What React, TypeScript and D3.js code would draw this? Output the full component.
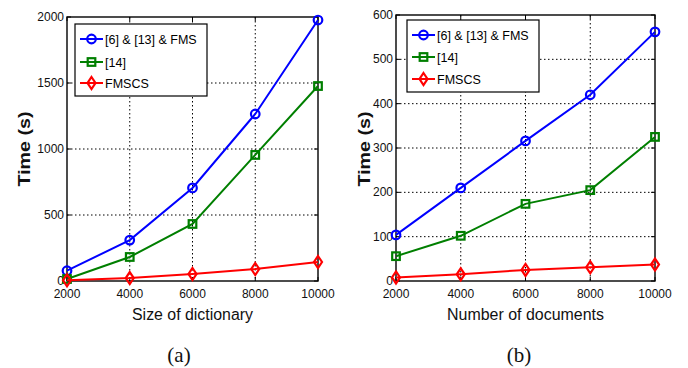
import React from "react";
import * as d3 from "d3";

const xValues = [2000, 4000, 6000, 8000, 10000];
const xTickLabels = ["2000", "4000", "6000", "8000", "10000"];
const seriesNames = ["[6] & [13] & FMS", "[14]", "FMSCS"];
const seriesColors = ["#0000ff", "#007f00", "#ff0000"];
const seriesMarkers = ["circle", "square", "diamond"];

const leftBlue = [78, 310, 705, 1265, 1977];
const leftGreen = [15, 182, 432, 955, 1477];
const leftRed = [5, 22, 53, 91, 144];
const leftYTicks = [0, 500, 1000, 1500, 2000];

const rightBlue = [104, 210, 316, 420, 562];
const rightGreen = [56, 102, 174, 205, 325];
const rightRed = [8, 15, 25, 31, 37];
const rightYTicks = [0, 100, 200, 300, 400, 500, 600];

type PanelProps = {
  x0: number; x1: number; y0: number; y1: number; ymax: number;
  yTicks: number[]; series: number[][]; xLabel: string; xLabelLen: number;
  caption: string; captionX: number; timeX: number;
  legend: { x: number; y: number; w: number; h: number; rows: number[] };
};

function Marker({ kind, x, y, color }: { kind: string; x: number; y: number; color: string }) {
  if (kind === "circle") return <circle cx={x} cy={y} r={4.3} fill="none" stroke={color} strokeWidth={2.2} />;
  if (kind === "square") return <rect x={x - 3.8} y={y - 3.8} width={7.6} height={7.6} fill="none" stroke={color} strokeWidth={2.2} />;
  return <path d={`M${x},${y - 6}L${x + 4},${y}L${x},${y + 6}L${x - 4},${y}Z`} fill="none" stroke={color} strokeWidth={2.2} />;
}

function Panel(p: PanelProps) {
  const xs = d3.scaleLinear().domain([2000, 10000]).range([p.x0, p.x1]);
  const ys = d3.scaleLinear().domain([0, p.ymax]).range([p.y1, p.y0]);
  const line = d3.line<number>().x((_, i) => xs(xValues[i])).y((d) => ys(d));
  const font = "Arial, 'Liberation Sans', sans-serif";
  return (
    <g>
      {xValues.slice(1, -1).map((v) => (
        <line key={"gx" + v} x1={xs(v)} x2={xs(v)} y1={p.y0} y2={p.y1} stroke="#000" strokeWidth={1} strokeDasharray="1.5,2.5" />
      ))}
      {p.yTicks.slice(1, -1).map((v) => (
        <line key={"gy" + v} x1={p.x0} x2={p.x1} y1={ys(v)} y2={ys(v)} stroke="#000" strokeWidth={1} strokeDasharray="1.5,2.5" />
      ))}
      {xValues.map((v) => (
        <g key={"tx" + v}>
          <line x1={xs(v)} x2={xs(v)} y1={p.y1} y2={p.y1 - 4} stroke="#000" />
          <line x1={xs(v)} x2={xs(v)} y1={p.y0} y2={p.y0 + 4} stroke="#000" />
        </g>
      ))}
      {p.yTicks.map((v) => (
        <g key={"ty" + v}>
          <line x1={p.x0} x2={p.x0 + 4} y1={ys(v)} y2={ys(v)} stroke="#000" />
          <line x1={p.x1} x2={p.x1 - 4} y1={ys(v)} y2={ys(v)} stroke="#000" />
        </g>
      ))}
      <rect x={p.x0} y={p.y0} width={p.x1 - p.x0} height={p.y1 - p.y0} fill="none" stroke="#000" strokeWidth={1.4} />
      {p.yTicks.map((v) => (
        <text key={"ly" + v} x={p.x0 - 3} y={ys(v) + 4} textAnchor="end" fontFamily={font} fontSize={12} fill="#111">{v}</text>
      ))}
      {xValues.map((v, i) => (
        <text key={"lx" + v} x={xs(v)} y={p.y1 + 17} textAnchor="middle" fontFamily={font} fontSize={12} fill="#111">{xTickLabels[i]}</text>
      ))}
      {p.series.map((s, si) => (
        <g key={"s" + si}>
          <path d={line(s) || ""} fill="none" stroke={seriesColors[si]} strokeWidth={2} />
          {s.map((d, i) => (
            <Marker key={i} kind={seriesMarkers[si]} x={xs(xValues[i])} y={ys(d)} color={seriesColors[si]} />
          ))}
        </g>
      ))}
      <rect x={p.legend.x} y={p.legend.y} width={p.legend.w} height={p.legend.h} fill="#fff" stroke="#000" strokeWidth={1.2} />
      {seriesNames.map((n, i) => {
        const ry = p.legend.rows[i];
        const lx = p.legend.x;
        return (
          <g key={"lg" + i}>
            <line x1={lx + 5} x2={lx + 28} y1={ry} y2={ry} stroke={seriesColors[i]} strokeWidth={2} />
            <Marker kind={seriesMarkers[i]} x={lx + 16.5} y={ry} color={seriesColors[i]} />
            <text x={lx + 30} y={ry + 4.5} fontFamily={font} fontSize={12.5} fill="#000">{n}</text>
          </g>
        );
      })}
      <text x={(p.x0 + p.x1) / 2} y={p.y1 + 39} textAnchor="middle" fontFamily={font} fontSize={16} fill="#111" textLength={p.xLabelLen} lengthAdjust="spacingAndGlyphs">{p.xLabel}</text>
      <text transform={`translate(${p.timeX},149) rotate(-90)`} textAnchor="middle" fontFamily={font} fontWeight="bold" fontSize={17} fill="#111" textLength={75} lengthAdjust="spacingAndGlyphs">Time (s)</text>
      <text x={p.captionX} y={362} textAnchor="middle" fontFamily="'Liberation Serif', 'DejaVu Serif', serif" fontSize={21} fill="#111">{p.caption}</text>
    </g>
  );
}

export default function App() {
  return (
    <svg width={688} height={368} style={{ position: "absolute", left: 0, top: 0, background: "#fff" }}>
      <rect width={688} height={368} fill="#fff" />
      <Panel x0={67} x1={318} y0={17} y1={281} ymax={2000} yTicks={leftYTicks}
        series={[leftBlue, leftGreen, leftRed]} xLabel="Size of dictionary" xLabelLen={121}
        caption="(a)" captionX={179} timeX={30} legend={{ x: 75, y: 24, w: 132, h: 72, rows: [39, 62, 83] }} />
      <Panel x0={396} x1={655} y0={15} y1={281} ymax={600} yTicks={rightYTicks}
        series={[rightBlue, rightGreen, rightRed]} xLabel="Number of documents" xLabelLen={157}
        caption="(b)" captionX={519} timeX={370} legend={{ x: 407, y: 20, w: 132, h: 72, rows: [35, 57, 79] }} />
    </svg>
  );
}
